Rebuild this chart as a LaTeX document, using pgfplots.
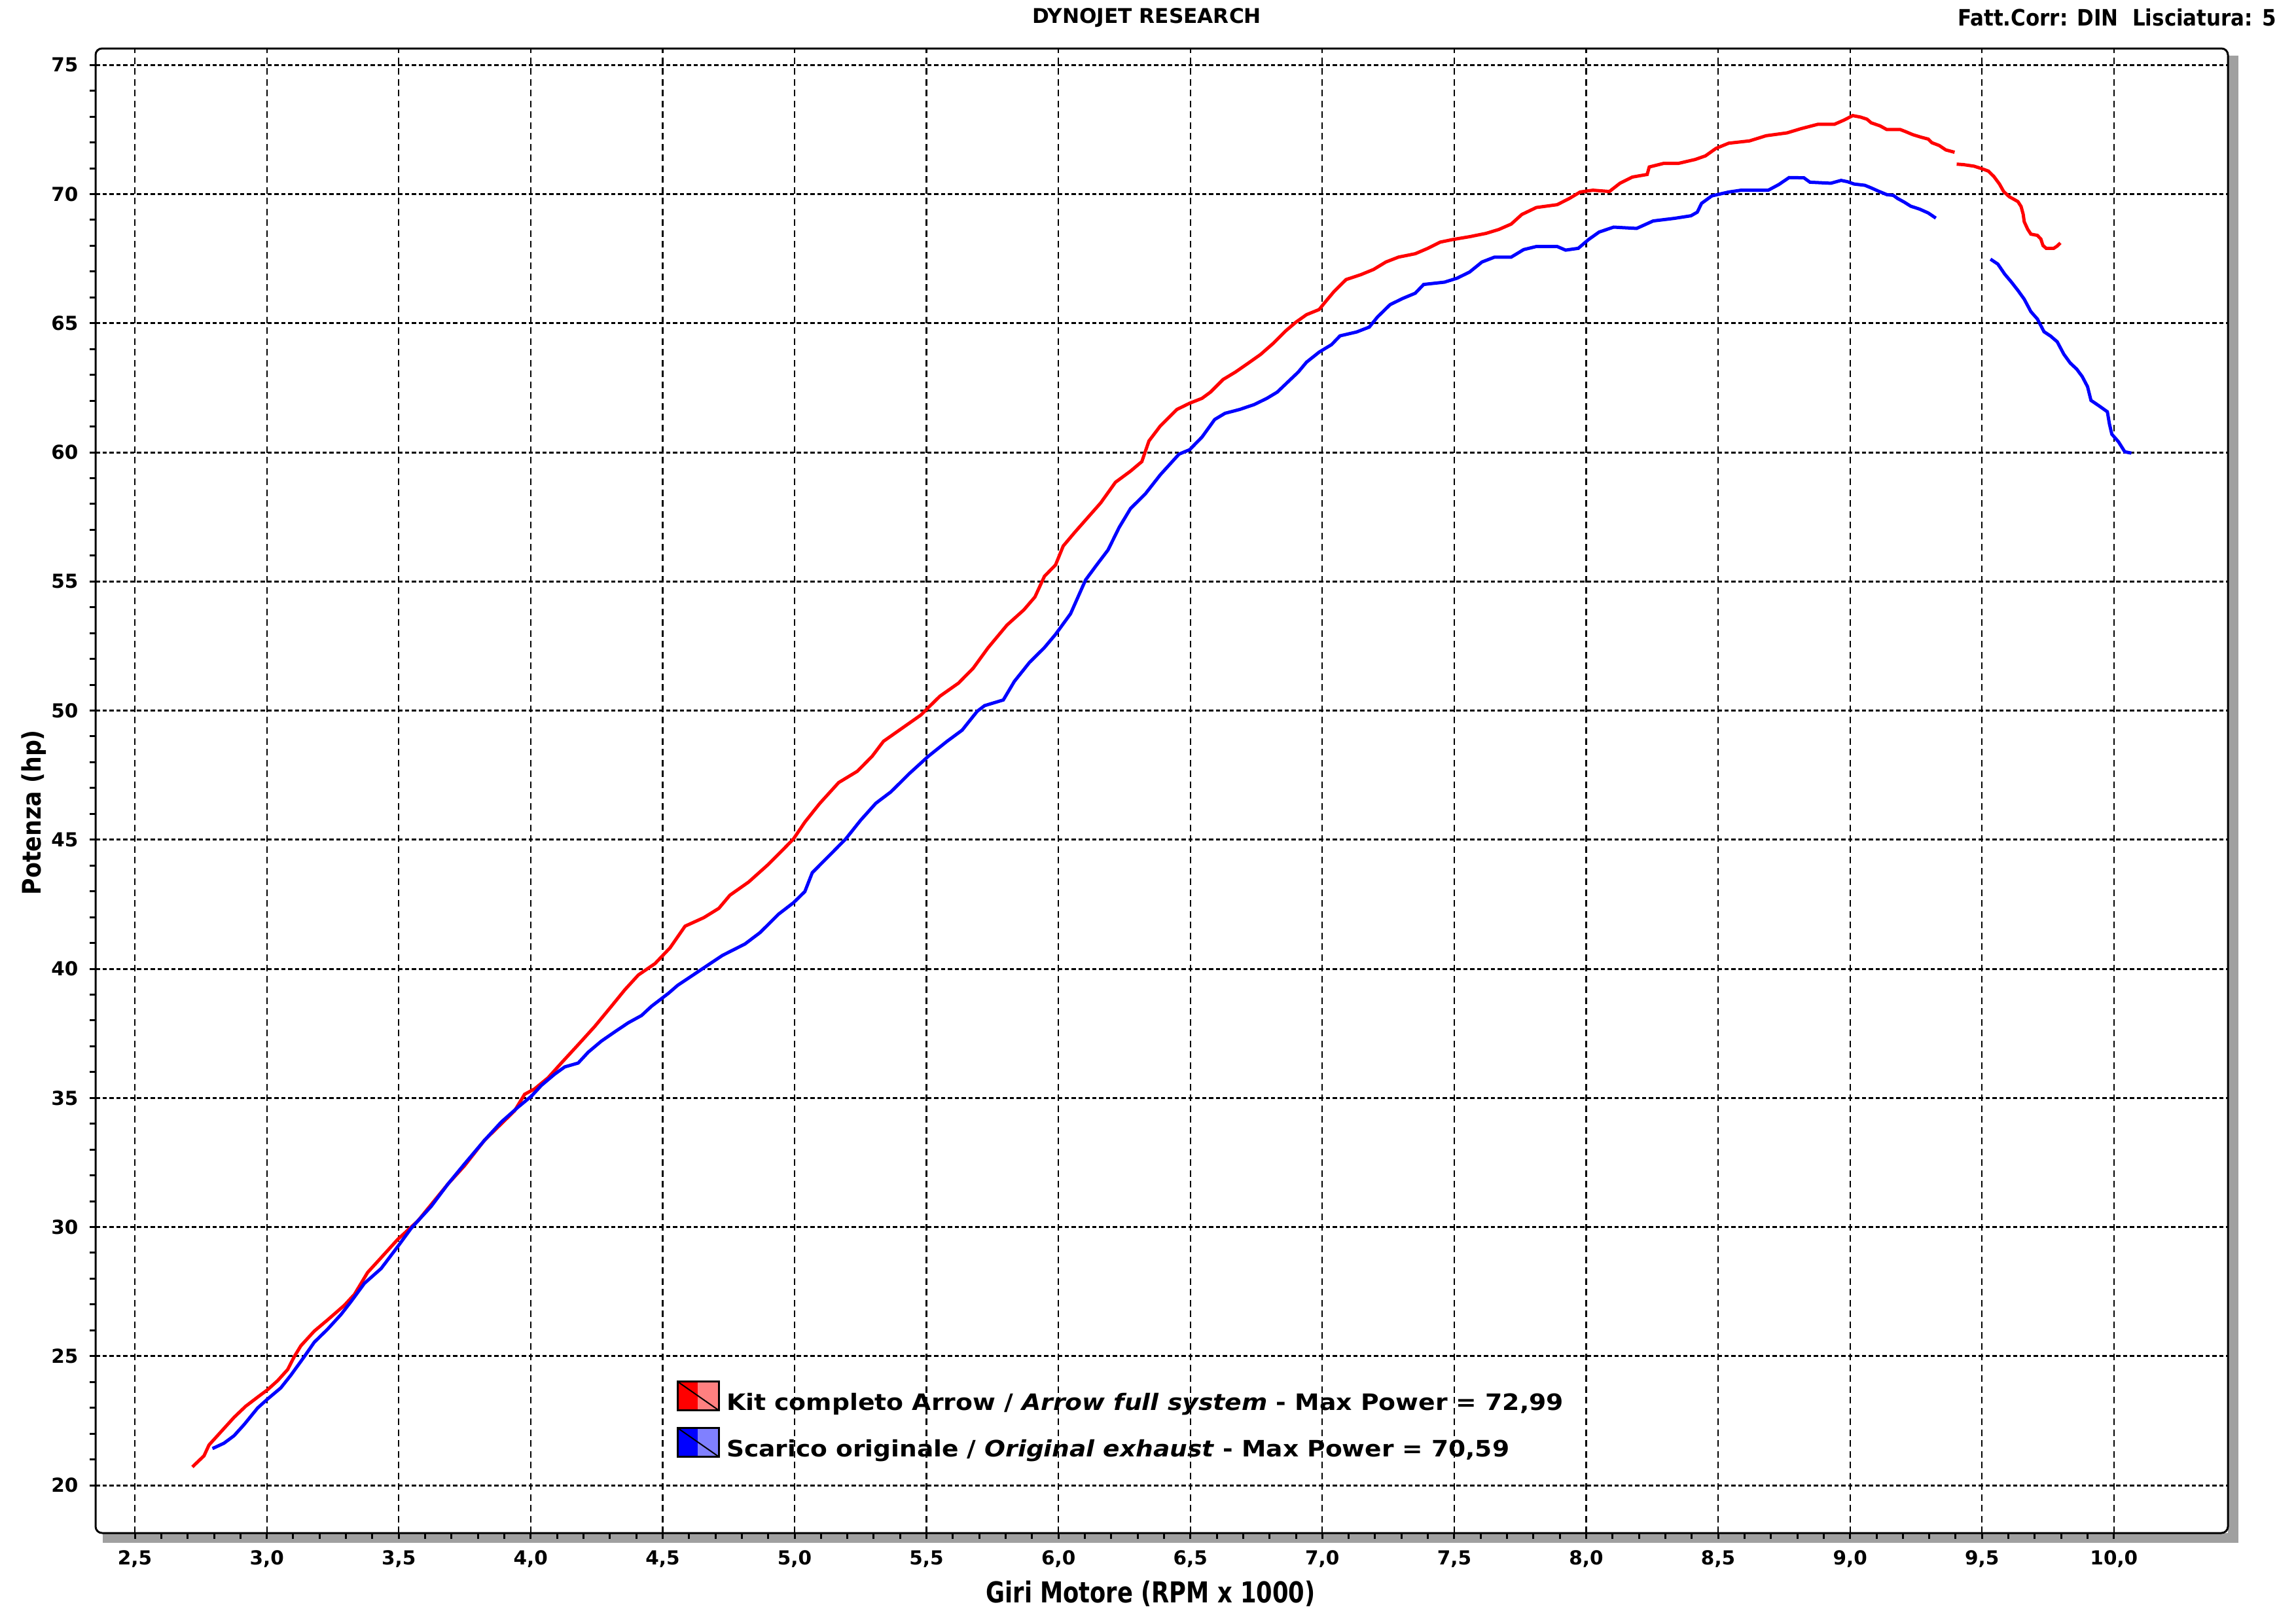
\documentclass[border=0pt]{standalone}
\usepackage{fontspec}
\setmainfont{DejaVu Sans}
\usepackage{graphicx}
\usepackage{pgfplots}
\pgfplotsset{compat=1.18}
\definecolor{shadowgray}{HTML}{A0A0A0}
\definecolor{lightred}{HTML}{FF8080}
\definecolor{lightblue}{HTML}{8080FF}
\newcommand{\fitw}[2]{\resizebox{#1}{\height}{#2}}
\begin{document}
\begin{tikzpicture}
\useasboundingbox (0,0) rectangle (701.6pt,496pt);
\fill[shadowgray] (31.4pt,24.6pt) rectangle (684pt,479pt);
\begin{axis}[
  at={(29.2pt,27.6pt)}, anchor=south west,
  scale only axis, width=651.6pt, height=453.6pt,
  xmin=2.351, xmax=10.432, ymin=18.15, ymax=75.64,
  axis background/.style={fill=white},
  axis line style={draw=none},
  after end axis/.code={\draw[black, line width=0.6pt, rounded corners=2pt] (rel axis cs:0,0) rectangle (rel axis cs:1,1);},
  xtick={2.5,3,3.5,4,4.5,5,5.5,6,6.5,7,7.5,8,8.5,9,9.5,10},
  xticklabels={{2,5},{3,0},{3,5},{4,0},{4,5},{5,0},{5,5},{6,0},{6,5},{7,0},{7,5},{8,0},{8,5},{9,0},{9,5},{10,0}},
  minor x tick num=4,
  ytick={20,25,...,75},
  minor y tick num=4,
  xtick pos=bottom, ytick pos=left,
  tick align=outside,
  major tick length=1.8pt, minor tick length=1.8pt,
  tick style={black, line width=0.6pt},
  grid=major,
  x grid style={black, dash pattern=on 2pt off 1.3pt, line width=0.45pt},
  y grid style={black, dash pattern=on 1.3pt off 0.8pt, line width=0.6pt},
  /pgf/number format/assume math mode=true,
  ticklabel style={font=\bfseries\fontsize{5.9}{7}\selectfont},
  xlabel={\fitw{100.6pt}{Giri Motore (RPM x 1000)}},
  ylabel={\fitw{50.4pt}{Potenza (hp)}},
  xlabel style={font=\bfseries\fontsize{8.8}{10}\selectfont, at={(axis description cs:0.4948,-0.041)}, anchor=center},
  ylabel style={font=\bfseries\fontsize{7.8}{9}\selectfont, at={(axis description cs:-0.0289,0.4854)}, anchor=center},
  legend cell align=left,
  legend style={draw=none, fill=none, at={(0.2723,0.1030)}, anchor=north west, inner sep=0pt, row sep=1.6pt,
    font=\bfseries\fontsize{6.9}{8}\selectfont},
]
\addlegendimage{legend image code/.code={
  \fill[red] (0pt,-1.9pt) rectangle (6.3pt,6.9pt);
  \fill[lightred] (6.3pt,-1.9pt) rectangle (12.6pt,6.9pt);
  \draw[black, line width=0.4pt] (0pt,6.9pt) -- (12.6pt,-1.9pt);
  \draw[black, line width=0.6pt] (0pt,-1.9pt) rectangle (12.6pt,6.9pt);}}
\addlegendentry{\fitw{255.8pt}{Kit completo Arrow / \textit{Arrow full system} - Max Power = 72,99}}
\addlegendimage{legend image code/.code={
  \fill[blue] (0pt,-1.9pt) rectangle (6.3pt,6.9pt);
  \fill[lightblue] (6.3pt,-1.9pt) rectangle (12.6pt,6.9pt);
  \draw[black, line width=0.4pt] (0pt,6.9pt) -- (12.6pt,-1.9pt);
  \draw[black, line width=0.6pt] (0pt,-1.9pt) rectangle (12.6pt,6.9pt);}}
\addlegendentry{\fitw{239.2pt}{Scarico originale / \textit{Original exhaust} - Max Power = 70,59}}

% Red: Kit completo Arrow
\addplot[color=red, line width=1pt, forget plot] coordinates {
(2.718,20.71) (2.762,21.14) (2.781,21.56) (2.813,21.92) (2.844,22.27) (2.876,22.63)
(2.920,23.06) (2.965,23.41) (3.003,23.70) (3.041,24.05) (3.079,24.48) (3.104,24.98)
(3.129,25.40) (3.180,25.97) (3.230,26.40) (3.294,26.97) (3.332,27.39) (3.382,28.24)
(3.433,28.81) (3.496,29.52) (3.572,30.23) (3.623,30.87) (3.686,31.66) (3.749,32.37)
(3.825,33.36) (3.889,34.00) (3.939,34.50) (3.977,35.14) (4.015,35.35) (4.066,35.78)
(4.116,36.35) (4.180,37.06) (4.243,37.77) (4.306,38.55) (4.357,39.19) (4.408,39.76)
(4.471,40.20) (4.528,40.81) (4.585,41.65) (4.656,41.98) (4.713,42.34) (4.755,42.85)
(4.826,43.36) (4.897,44.01) (4.954,44.59) (4.996,45.03) (5.039,45.68) (5.096,46.41)
(5.167,47.21) (5.238,47.65) (5.294,48.23) (5.337,48.81) (5.408,49.32) (5.479,49.83)
(5.550,50.55) (5.621,51.06) (5.677,51.64) (5.734,52.44) (5.805,53.31) (5.869,53.90)
(5.911,54.40) (5.947,55.20) (5.989,55.64) (6.018,56.37) (6.060,56.88) (6.103,57.38)
(6.160,58.04) (6.216,58.84) (6.273,59.27) (6.316,59.64) (6.343,60.44) (6.386,61.02)
(6.449,61.66) (6.497,61.90) (6.544,62.09) (6.576,62.33) (6.624,62.82) (6.671,63.11)
(6.719,63.45) (6.766,63.79) (6.814,64.22) (6.861,64.70) (6.900,65.04) (6.940,65.33)
(6.988,65.53) (7.011,65.82) (7.043,66.21) (7.090,66.69) (7.146,66.88) (7.194,67.08)
(7.241,67.37) (7.289,67.56) (7.352,67.69) (7.400,67.90) (7.447,68.14) (7.494,68.24)
(7.558,68.35) (7.621,68.48) (7.669,68.63) (7.716,68.84) (7.756,69.21) (7.811,69.48)
(7.890,69.59) (7.938,69.84) (7.977,70.08) (8.025,70.15) (8.088,70.10) (8.128,70.42)
(8.175,70.66) (8.231,70.76) (8.239,71.05) (8.294,71.19) (8.350,71.19) (8.413,71.34)
(8.452,71.48) (8.492,71.77) (8.540,71.97) (8.619,72.06) (8.682,72.26) (8.761,72.37)
(8.813,72.53) (8.877,72.70) (8.940,72.70) (8.978,72.87) (9.010,73.04) (9.040,72.98)
(9.064,72.90) (9.080,72.76) (9.114,72.64) (9.139,72.50) (9.190,72.50) (9.210,72.42)
(9.238,72.30) (9.270,72.20) (9.296,72.13) (9.310,71.99) (9.338,71.88) (9.363,71.71)
(9.396,71.62)
};
\addplot[color=red, line width=1pt, forget plot] coordinates {
(9.404,71.16) (9.430,71.14) (9.470,71.08) (9.503,70.97) (9.524,70.89) (9.545,70.68)
(9.566,70.39) (9.582,70.10) (9.603,69.90) (9.636,69.71) (9.648,69.52) (9.656,69.22)
(9.660,68.93) (9.673,68.64) (9.685,68.45) (9.710,68.40) (9.723,68.26) (9.731,68.01)
(9.743,67.90) (9.772,67.90) (9.785,67.99) (9.797,68.11)
};
% Blue: Scarico originale
\addplot[color=blue, line width=1pt, forget plot] coordinates {
(2.794,21.42) (2.838,21.63) (2.876,21.92) (2.914,22.35) (2.965,22.99) (3.003,23.34)
(3.053,23.77) (3.091,24.26) (3.142,24.98) (3.180,25.54) (3.230,26.04) (3.281,26.61)
(3.319,27.11) (3.370,27.82) (3.433,28.39) (3.496,29.24) (3.547,29.95) (3.623,30.80)
(3.686,31.66) (3.749,32.44) (3.825,33.36) (3.889,34.07) (3.952,34.64) (4.003,35.07)
(4.041,35.49) (4.091,35.92) (4.129,36.20) (4.180,36.35) (4.218,36.77) (4.268,37.20)
(4.319,37.56) (4.370,37.91) (4.420,38.19) (4.458,38.55) (4.522,39.05) (4.557,39.36)
(4.642,39.94) (4.727,40.52) (4.812,40.96) (4.869,41.40) (4.940,42.12) (4.996,42.56)
(5.039,42.99) (5.067,43.72) (5.138,44.45) (5.194,45.03) (5.251,45.76) (5.308,46.41)
(5.365,46.85) (5.436,47.57) (5.507,48.23) (5.578,48.81) (5.635,49.24) (5.692,49.97)
(5.720,50.19) (5.791,50.41) (5.833,51.13) (5.890,51.86) (5.947,52.44) (5.989,52.95)
(6.046,53.75) (6.103,55.06) (6.145,55.64) (6.188,56.22) (6.230,57.09) (6.273,57.82)
(6.330,58.40) (6.386,59.13) (6.457,59.93) (6.497,60.10) (6.544,60.59) (6.592,61.27)
(6.631,61.51) (6.687,61.66) (6.742,61.85) (6.790,62.09) (6.829,62.33) (6.869,62.72)
(6.909,63.11) (6.940,63.49) (6.988,63.88) (7.035,64.17) (7.067,64.51) (7.130,64.66)
(7.178,64.85) (7.209,65.24) (7.257,65.72) (7.305,65.96) (7.352,66.16) (7.384,66.50)
(7.463,66.59) (7.510,66.74) (7.558,66.98) (7.605,67.37) (7.653,67.56) (7.716,67.56)
(7.763,67.85) (7.811,67.97) (7.890,67.97) (7.922,67.83) (7.970,67.90) (8.009,68.24)
(8.049,68.53) (8.104,68.72) (8.191,68.67) (8.254,68.96) (8.334,69.06) (8.397,69.16)
(8.421,69.30) (8.437,69.64) (8.476,69.93) (8.540,70.08) (8.587,70.15) (8.690,70.15)
(8.730,70.37) (8.769,70.64) (8.825,70.63) (8.848,70.46) (8.927,70.42) (8.966,70.53)
(8.990,70.48) (9.015,70.39) (9.056,70.34) (9.080,70.24) (9.106,70.12) (9.139,69.98)
(9.164,69.95) (9.180,69.83) (9.205,69.69) (9.230,69.53) (9.263,69.42) (9.296,69.27)
(9.325,69.07)
};
\addplot[color=blue, line width=1pt, forget plot] coordinates {
(9.532,67.48) (9.560,67.29) (9.586,66.90) (9.610,66.61) (9.636,66.27) (9.660,65.93)
(9.685,65.45) (9.710,65.16) (9.735,64.67) (9.760,64.50) (9.785,64.28) (9.810,63.80)
(9.834,63.46) (9.859,63.22) (9.880,62.93) (9.900,62.54) (9.913,62.01) (9.942,61.81)
(9.975,61.57) (9.983,61.09) (9.992,60.70) (10.017,60.41) (10.041,60.02) (10.066,59.97)
};
\end{axis}
\node[font=\bfseries\fontsize{6.2}{7}\selectfont] at (350.4pt,490.6pt) {\fitw{70pt}{DYNOJET RESEARCH}};
\node[font=\bfseries\fontsize{6.9}{8}\selectfont] at (646.9pt,490.6pt) {\fitw{97.4pt}{Fatt.Corr: DIN\ \ Lisciatura: 5}};
\end{tikzpicture}
\end{document}
